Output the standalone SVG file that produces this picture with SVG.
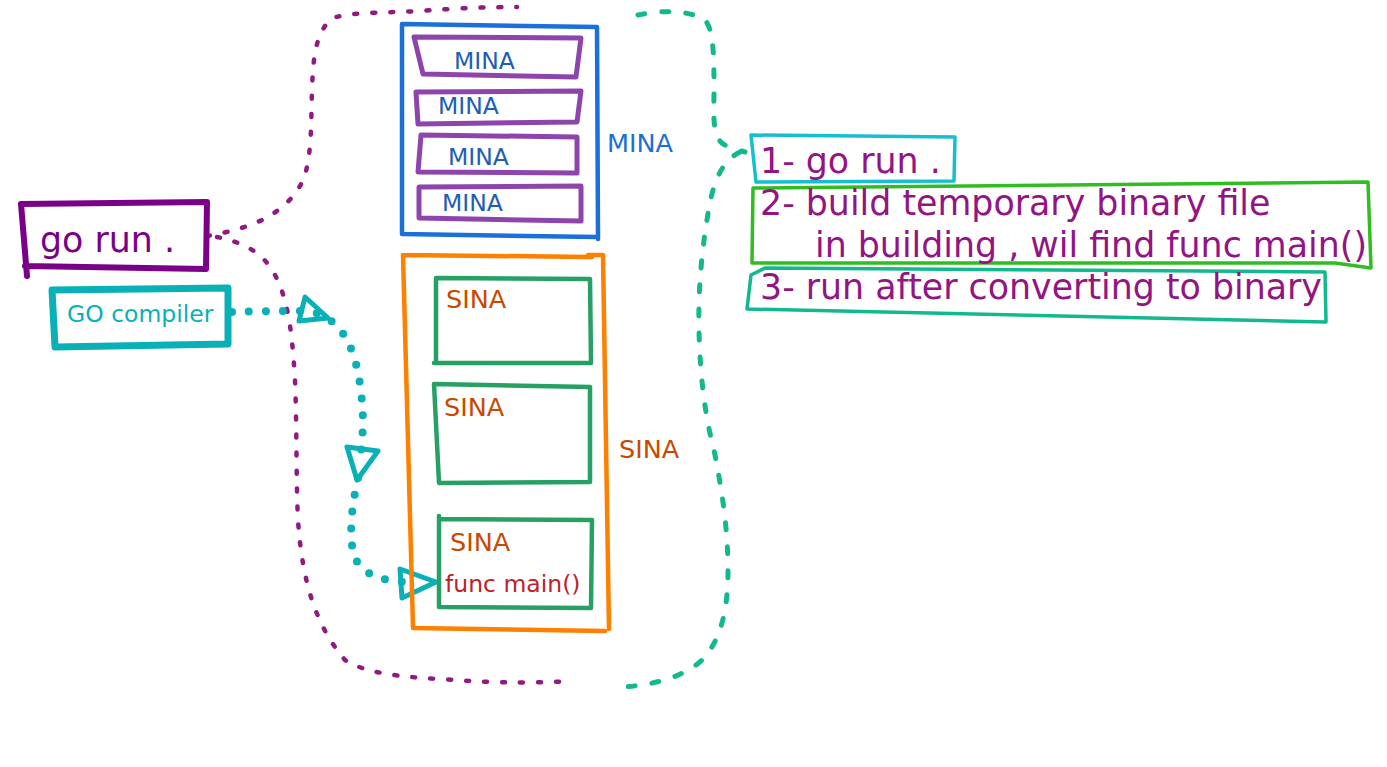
<svg xmlns="http://www.w3.org/2000/svg" width="1387" height="767" viewBox="0 0 1387 767">
<style>
text{font-family:"DejaVu Sans","Noto Sans",sans-serif}
.big{font-size:34.8px}
.mid{font-size:25.5px}
.sm{font-size:23.5px}
.sk{fill:none;stroke-linejoin:round;stroke-linecap:round}
.pdash{fill:none;stroke:#901a82;stroke-width:4.5;stroke-linecap:round;stroke-dasharray:3 15}
.gdash{fill:none;stroke:#12b88e;stroke-width:5;stroke-linecap:round;stroke-dasharray:7 17}
.tdot{fill:none;stroke:#09b0b8;stroke-width:8;stroke-linecap:round;stroke-dasharray:0 17}
.thead{fill:none;stroke:#09b0b8;stroke-width:5;stroke-linejoin:round;stroke-linecap:round}
.mina{stroke:#8e44ad;stroke-width:5}
.sina{stroke:#27a064;stroke-width:4.5}
.minat{fill:#1e5eb5}
.sinat{fill:#c84a00}
.note{fill:#921485}
</style>
<rect width="1387" height="767" fill="#ffffff"/>

<g id="connectors">
  <path class="pdash" d="M207,236 C225,233 245,228 262,220 C282,210 298,195 305,175 C312,150 311,120 312,90 C313,60 315,35 330,20 C340,12 380,13 420,11 C460,8 490,7 517,7"/>
  <path class="pdash" d="M217,237 C240,242 262,250 275,275 C288,300 292,330 295,380 C297,430 296,480 298,520 C302,580 315,625 345,660 C365,673 400,677 440,679 C480,682 520,684 572,681"/>
  <path class="gdash" d="M638,15 C660,10 690,10 705,20 C714,30 714,60 714,90 C714,115 712,135 722,143 C728,148 738,150 745,152"/>
  <path class="gdash" d="M740,152 C720,162 712,185 707,220 C702,250 698,290 699,330 C700,380 706,420 714,450 C722,490 728,530 728,570 C728,610 721,640 702,660 C682,678 652,685 623,687"/>
  <path class="tdot" d="M232,312 C255,311 280,311 305,311 C322,312 338,322 348,342 C358,362 362,390 363,420 C363,435 361,450 360,462"/>
  <path class="tdot" d="M358,478 C352,505 349,530 353,552 C358,572 378,582 412,582"/>
  <polygon class="thead" points="305,297 328,318 299,321"/>
  <polygon class="thead" points="347,447 378,451 357,480"/>
  <polygon class="thead" points="400,569 436,582 402,598"/>
</g>

<g id="go-run">
  <path class="sk" stroke="#7a0088" stroke-width="6" d="M21,204 L207,202 L206,269 L25,266 M21,204 L27,276"/>
  <text x="40" y="252" class="big" fill="#7a0088">go run .</text>
</g>

<g id="go-compiler">
  <path class="sk" stroke="#09b0b8" stroke-width="7" d="M52,290 L228,288 L228,344 L55,347 Z"/>
  <text x="67" y="322" class="sm" fill="#09b0b8">GO compiler</text>
</g>

<g id="mina-container">
  <path class="sk" stroke="#1a6fdb" stroke-width="4.5" d="M402,24 L597,27 L598,239 M597,237 L402,234 L402,24"/>
  <text x="607" y="152" class="mid" fill="#1c6fd8">MINA</text>
</g>
<g id="mina-1">
  <path class="sk mina" d="M414,37 L581,38 L576,77 L423,74 Z"/>
  <text x="454" y="69" class="sm minat">MINA</text>
</g>
<g id="mina-2">
  <path class="sk mina" d="M416,92 L581,91 L577,122 L418,124 Z"/>
  <text x="438" y="114" class="sm minat">MINA</text>
</g>
<g id="mina-3">
  <path class="sk mina" d="M421,135 L577,137 L577,173 L418,172 Z"/>
  <text x="448" y="165" class="sm minat">MINA</text>
</g>
<g id="mina-4">
  <path class="sk mina" d="M419,187 L581,186 L581,221 L419,218 Z"/>
  <text x="442" y="211" class="sm minat">MINA</text>
</g>

<g id="sina-container">
  <path class="sk" stroke="#ff7f00" stroke-width="4.5" d="M403,255 L592,257 M588,255 L603,255 L609,629 M605,631 L413,628 L403,255"/>
  <text x="619" y="458" class="mid" fill="#c84a00">SINA</text>
</g>
<g id="sina-1">
  <path class="sk sina" d="M436,278 L590,279 L591,363 L434,363 M436,278 L436,363"/>
  <text x="446" y="308" class="mid sinat">SINA</text>
</g>
<g id="sina-2">
  <path class="sk sina" d="M434,384 L590,387 L590,482 L439,483 Z"/>
  <text x="444" y="416" class="mid sinat">SINA</text>
</g>
<g id="sina-3">
  <path class="sk sina" d="M439,516 L439,607 L591,608 L592,520 L440,519"/>
  <text x="450" y="551" class="mid sinat">SINA</text>
  <text x="445" y="592" class="sm" fill="#c0202a">func main()</text>
</g>

<g id="step-1">
  <path class="sk" stroke="#15bfcf" stroke-width="3.5" d="M751,135 L955,137 L954,181 L756,182 Z"/>
  <text x="760" y="173" class="big note">1- go run .</text>
</g>
<g id="step-2">
  <path class="sk" stroke="#2fbd1f" stroke-width="3.5" d="M753,188 L1368,182 L1371,268 L1335,263 L752,263 Z"/>
  <text x="760" y="215" class="big note">2- build temporary binary file</text>
  <text x="815" y="257" class="big note">in building , wil find func main()</text>
</g>
<g id="step-3">
  <path class="sk" stroke="#12b88e" stroke-width="3.5" d="M765,268 L751,275 L747,309 L1326,322 L1325,272 Z"/>
  <text x="760" y="299" class="big note">3- run after converting to binary</text>
</g>
</svg>
